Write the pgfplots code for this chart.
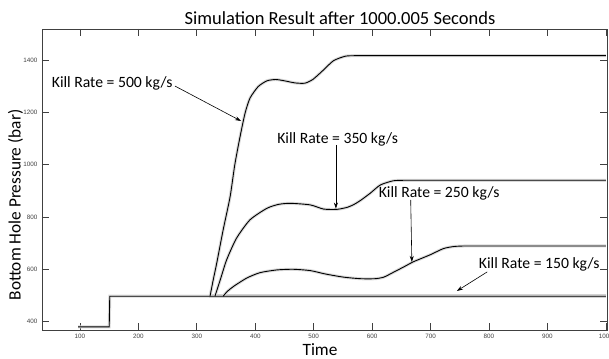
\documentclass[border=0pt]{standalone}
\usepackage{pgfplots}
\pgfplotsset{compat=1.18}
\usepackage{fontspec}
\setmainfont{Carlito}
\newfontfamily\tickfont{Liberation Sans}
\usetikzlibrary{arrows.meta}
\pgfplotstableread{
x y
322.6 497
328 559
334 623
345 750
357 878
365 1000
374 1107
382.5 1196
391 1254
405 1298
420 1320
435 1325
450 1320
468 1312
485 1311
499 1326
517 1362
534 1397
554 1414
570 1416
585 1416
600 1416
650 1416
700 1416
800 1416
900 1416
1000 1416
}\killfivehundred
\pgfplotstableread{
x y
331 497
340 559
351 636
368 719
391 789
420 833
440 848
460 852
494 846
517 830
540 829
558 837
570 849
582 866
597 891
614 922
636 938
655 940
670 940
690 940
750 940
800 940
900 940
1000 940
}\killthreefifty
\pgfplotstableread{
x y
345 497
352 515
362.5 534
385 566
408 587
437 597.5
465 600
494 595
520 582
551 570
580 564
605 564
620 570
636 588
655 610
671 629
699 655
722 679
740 687
758 689
775 689
800 689
850 689
900 689
950 689
1000 689
}\killtwofifty
\pgfplotstableread{
x y
97 380
150 380
151 497
1000 497
}\killonefifty
\begin{document}
\begin{tikzpicture}[x=1pt,y=1pt]
\begin{axis}[
  at={(0,0)}, anchor=south west,
  scale only axis, width=565pt, height=301pt,
  xmin=35, xmax=1002, ymin=368, ymax=1518,
  xtick={100,200,...,1000}, ytick={400,600,...,1400},
  tick align=inside, major tick length=7pt,
  tick style={black!75, line width=0.7pt},
  axis line style={black!75, line width=0.8pt},
  /pgf/number format/assume math mode=true,
  /pgf/number format/1000 sep={},
  ticklabel style={font=\tickfont\fontsize{6.3}{7}\selectfont, text=black!75},
  xticklabel style={yshift=-1pt},
  yticklabel style={xshift=-1pt},
  clip=false,
]
% halos
\addplot[gray!30, line width=3pt, forget plot] table {\killonefifty};
\addplot[gray!35, line width=4pt, forget plot] coordinates {(320,497) (1000,497)};
\addplot[gray!30, line width=3pt, smooth, tension=0.4, forget plot] table {\killfivehundred};
\addplot[gray!30, line width=3pt, smooth, tension=0.4, forget plot] table {\killthreefifty};
\addplot[gray!30, line width=3pt, smooth, tension=0.4, forget plot] table {\killtwofifty};
% curves
\addplot[black, line width=0.9pt] table {\killonefifty};
\addplot[black, line width=0.9pt, smooth, tension=0.4] table {\killfivehundred};
\addplot[black, line width=0.9pt, smooth, tension=0.4] table {\killthreefifty};
\addplot[black, line width=0.9pt, smooth, tension=0.4] table {\killtwofifty};
% annotations
\node[anchor=west, inner sep=0pt, font=\fontsize{15.7}{18}\selectfont] at (axis cs:51.5,1311) {Kill Rate = 500 kg/s};
\node[inner sep=0pt, font=\fontsize{15.7}{18}\selectfont] at (axis cs:541,1097) {Kill Rate = 350 kg/s};
\node[inner sep=0pt, font=\fontsize{15.7}{18}\selectfont] at (axis cs:714.6,890.6) {Kill Rate = 250 kg/s};
\node[inner sep=0pt, font=\fontsize{15.7}{18}\selectfont] at (axis cs:886,617) {Kill Rate = 150 kg/s};
\draw[-{Stealth[length=6pt,width=4pt]}, line width=0.6pt] (axis cs:262.6,1300) -- (axis cs:375.6,1166.5);
\draw[-{Stealth[length=6pt,width=4pt]}, line width=0.6pt] (axis cs:538,1075) -- (axis cs:538,832);
\draw[-{Stealth[length=6pt,width=4pt]}, line width=0.6pt] (axis cs:666,865) -- (axis cs:668,628);
\draw[-{Stealth[length=6pt,width=4pt]}, line width=0.6pt] (axis cs:797,590) -- (axis cs:745,517);
\end{axis}
\node[anchor=base, font=\fontsize{18.5}{21}\selectfont] at (298,305) {Simulation Result after 1000.005 Seconds};
\node[anchor=base, inner sep=0pt, font=\fontsize{17.3}{20}\selectfont] at (278,-25) {Time};
\node[rotate=90, inner sep=0pt, font=\fontsize{17.3}{20}\selectfont] at (-26.5,125) {Bottom Hole Pressure (bar)};
\pgfresetboundingbox
\path (-42,-28) rectangle (567,330);
\end{tikzpicture}
\end{document}
